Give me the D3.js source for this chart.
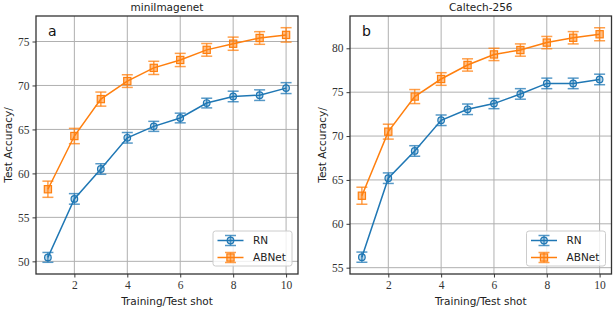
<!DOCTYPE html>
<html>
<head>
<meta charset="utf-8">
<script src="https://cdn.jsdelivr.net/npm/d3@7"></script>
<style>
  body { margin: 0; background: #fff; }
  svg { display: block; }
</style>
</head>
<body>
<div id="chart"></div>
<script>
var svgWidth = 614;
var svgHeight = 310;

// Data
var shots = [1, 2, 3, 4, 5, 6, 7, 8, 9, 10];

var miniRN = [50.45, 57.1, 60.5, 64.05, 65.35, 66.3, 68.0, 68.75, 68.9, 69.7];
var miniRNErr = [0.56, 0.6, 0.6, 0.6, 0.57, 0.55, 0.55, 0.6, 0.6, 0.62];
var miniAB = [58.2, 64.25, 68.45, 70.5, 72.0, 72.9, 74.05, 74.75, 75.4, 75.75];
var miniABErr = [0.92, 0.87, 0.8, 0.72, 0.75, 0.75, 0.72, 0.75, 0.72, 0.82];

var calRN = [56.2, 65.2, 68.3, 71.8, 73.05, 73.7, 74.8, 76.0, 76.0, 76.45];
var calRNErr = [0.58, 0.6, 0.6, 0.6, 0.6, 0.58, 0.6, 0.6, 0.6, 0.6];
var calAB = [63.2, 70.5, 74.5, 76.5, 78.1, 79.3, 79.8, 80.65, 81.2, 81.6];
var calABErr = [0.97, 0.85, 0.8, 0.72, 0.7, 0.7, 0.7, 0.7, 0.7, 0.74];

var xTicks = [2, 4, 6, 8, 10];
var miniYTicks = [50, 55, 60, 65, 70, 75];
var calYTicks = [55, 60, 65, 70, 75, 80];

var blue = "#1f77b4";
var orange = "#ff7f0e";

var svg = d3.select("#chart").append("svg")
    .attr("width", svgWidth)
    .attr("height", svgHeight);

function drawPanel(p) {
    var x = d3.scaleLinear().domain([0.55, 10.45]).range([p.left, p.right]);
    var y = d3.scaleLinear().domain(p.yDomain).range([p.bottom, p.top]);

    var g = svg.append("g");

    // grid
    g.selectAll(".vgrid").data(xTicks).enter().append("line")
        .attr("x1", d => x(d)).attr("x2", d => x(d))
        .attr("y1", p.top).attr("y2", p.bottom)
        .attr("stroke", "#b0b0b0").attr("stroke-width", 1);
    g.selectAll(".hgrid").data(p.yTicks).enter().append("line")
        .attr("y1", d => y(d)).attr("y2", d => y(d))
        .attr("x1", p.left).attr("x2", p.right)
        .attr("stroke", "#b0b0b0").attr("stroke-width", 1);

    // axes
    var bottomAxis = d3.axisBottom(x).tickValues(xTicks).tickSize(3.5).tickPadding(3);
    var leftAxis = d3.axisLeft(y).tickValues(p.yTicks).tickSize(3.5).tickPadding(3);

    var xa = g.append("g").attr("transform", `translate(0, ${p.bottom})`).call(bottomAxis);
    var ya = g.append("g").attr("transform", `translate(${p.left}, 0)`).call(leftAxis);
    [xa, ya].forEach(function (a) {
        a.select(".domain").remove();
        a.selectAll("line").attr("stroke", "#222").attr("stroke-width", 0.9);
        a.selectAll("text")
            .style("font-family", "'Liberation Serif', serif")
            .style("font-size", "11.5px")
            .attr("fill", "#333");
    });

    // series
    var series = [
        { vals: p.rn, err: p.rnErr, color: blue, marker: "circle" },
        { vals: p.ab, err: p.abErr, color: orange, marker: "square" }
    ];

    series.forEach(function (s) {
        var pts = shots.map((d, i) => ({ x: d, y: s.vals[i], e: s.err[i] }));
        var eg = g.append("g").attr("stroke", s.color).attr("stroke-opacity", 0.75).attr("stroke-width", 1.5);
        eg.selectAll(".ev").data(pts).enter().append("line")
            .attr("x1", d => x(d.x)).attr("x2", d => x(d.x))
            .attr("y1", d => y(d.y - d.e)).attr("y2", d => y(d.y + d.e));
        eg.selectAll(".ct").data(pts).enter().append("line")
            .attr("x1", d => x(d.x) - 5.5).attr("x2", d => x(d.x) + 5.5)
            .attr("y1", d => y(d.y + d.e)).attr("y2", d => y(d.y + d.e));
        eg.selectAll(".cb").data(pts).enter().append("line")
            .attr("x1", d => x(d.x) - 5.5).attr("x2", d => x(d.x) + 5.5)
            .attr("y1", d => y(d.y - d.e)).attr("y2", d => y(d.y - d.e));

        g.append("path").datum(pts)
            .attr("fill", "none").attr("stroke", s.color).attr("stroke-width", 1.5)
            .attr("d", d3.line().x(d => x(d.x)).y(d => y(d.y)));

        if (s.marker === "circle") {
            g.selectAll(".mk").data(pts).enter().append("circle")
                .attr("cx", d => x(d.x)).attr("cy", d => y(d.y)).attr("r", 3.3)
                .attr("fill", s.color).attr("fill-opacity", 0.3)
                .attr("stroke", s.color).attr("stroke-width", 1.2);
        } else {
            g.selectAll(".mk").data(pts).enter().append("rect")
                .attr("x", d => x(d.x) - 3.6).attr("y", d => y(d.y) - 3.6)
                .attr("width", 7.2).attr("height", 7.2)
                .attr("fill", s.color).attr("fill-opacity", 0.5)
                .attr("stroke", s.color).attr("stroke-width", 1.2);
        }
    });

    // frame
    g.append("rect")
        .attr("x", p.left).attr("y", p.top)
        .attr("width", p.right - p.left).attr("height", p.bottom - p.top)
        .attr("fill", "none").attr("stroke", "#333").attr("stroke-width", 1.3);

    // legend
    var lw = 79, lh = 35;
    var lx = p.right - 6 - lw, ly = p.bottom - 8 - lh;
    var lg = g.append("g").attr("transform", `translate(${lx}, ${ly})`);
    lg.append("rect").attr("width", lw).attr("height", lh).attr("rx", 2.5)
        .attr("fill", "#fff").attr("fill-opacity", 0.8)
        .attr("stroke", "#ccc").attr("stroke-width", 1);
    var legendItems = [
        { label: "RN", color: blue, marker: "circle" },
        { label: "ABNet", color: orange, marker: "square" }
    ];
    legendItems.forEach(function (it, i) {
        var cy = 9.5 + i * 17;
        var row = lg.append("g");
        row.append("line").attr("x1", 4.5).attr("x2", 30.5).attr("y1", cy).attr("y2", cy)
            .attr("stroke", it.color).attr("stroke-width", 1.5);
        row.append("line").attr("x1", 17.5).attr("x2", 17.5).attr("y1", cy - 5).attr("y2", cy + 5)
            .attr("stroke", it.color).attr("stroke-opacity", 0.75).attr("stroke-width", 1.5);
        [-5, 5].forEach(function (o) {
            row.append("line").attr("x1", 12).attr("x2", 23).attr("y1", cy + o).attr("y2", cy + o)
                .attr("stroke", it.color).attr("stroke-opacity", 0.75).attr("stroke-width", 1.5);
        });
        if (it.marker === "circle") {
            row.append("circle").attr("cx", 17.5).attr("cy", cy).attr("r", 3.3)
                .attr("fill", it.color).attr("fill-opacity", 0.3)
                .attr("stroke", it.color).attr("stroke-width", 1.2);
        } else {
            row.append("rect").attr("x", 13.9).attr("y", cy - 3.6).attr("width", 7.2).attr("height", 7.2)
                .attr("fill", it.color).attr("fill-opacity", 0.5)
                .attr("stroke", it.color).attr("stroke-width", 1.2);
        }
        row.append("text").attr("x", 40).attr("y", cy).attr("dy", "0.35em")
            .style("font-family", "'DejaVu Sans', sans-serif").style("font-size", "10.5px")
            .attr("fill", "#222").text(it.label);
    });

    // labels
    var cx = (p.left + p.right) / 2;
    g.append("text").attr("x", cx).attr("y", 11)
        .attr("text-anchor", "middle")
        .style("font-family", "'DejaVu Sans', sans-serif").style("font-size", "10.5px")
        .attr("fill", "#222").text(p.title);
    g.append("text").attr("x", cx).attr("y", 305)
        .attr("text-anchor", "middle")
        .style("font-family", "'DejaVu Sans', sans-serif").style("font-size", "10.5px")
        .attr("fill", "#222").text("Training/Test shot");
    g.append("text")
        .attr("transform", `translate(${p.left - 24}, ${(p.top + p.bottom) / 2}) rotate(-90)`)
        .attr("text-anchor", "middle")
        .style("font-family", "'DejaVu Sans', sans-serif").style("font-size", "10.5px")
        .attr("fill", "#222").text("Test Accuracy/");
    g.append("text").attr("x", p.left + 12).attr("y", 36)
        .style("font-family", "'DejaVu Sans', sans-serif").style("font-size", "14px")
        .attr("fill", "#111").text(p.tag);
}

drawPanel({
    left: 36, right: 298, top: 16, bottom: 274,
    yDomain: [48.56, 77.9], yTicks: miniYTicks,
    rn: miniRN, rnErr: miniRNErr, ab: miniAB, abErr: miniABErr,
    title: "miniImagenet", tag: "a"
});

drawPanel({
    left: 350, right: 611.5, top: 16, bottom: 274,
    yDomain: [54.28, 83.68], yTicks: calYTicks,
    rn: calRN, rnErr: calRNErr, ab: calAB, abErr: calABErr,
    title: "Caltech-256", tag: "b"
});
</script>
</body>
</html>
